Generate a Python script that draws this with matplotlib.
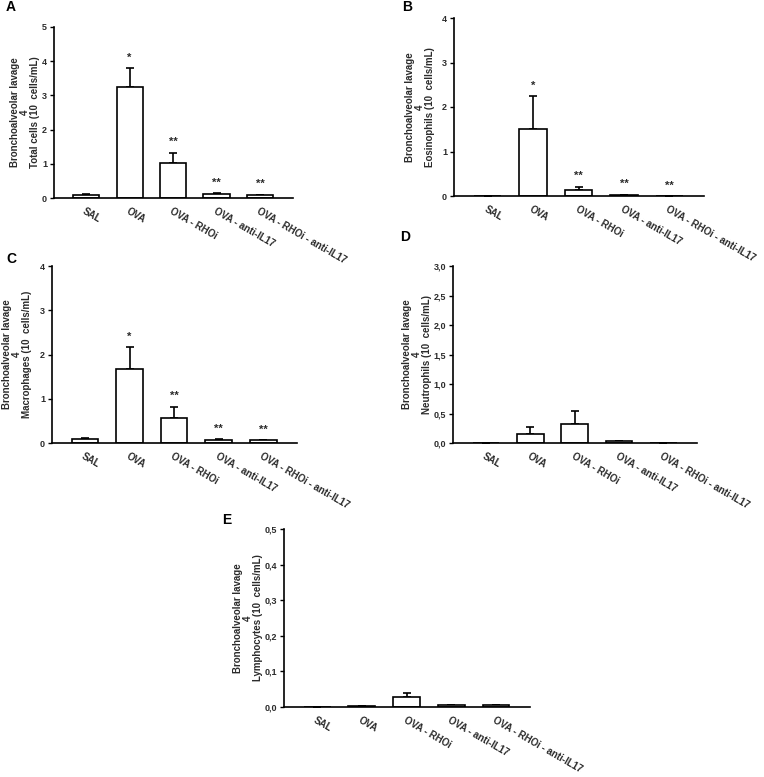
import matplotlib
matplotlib.use("Agg")
import matplotlib.pyplot as plt

plt.rcParams["font.family"] = ["Liberation Sans", "DejaVu Sans"]
plt.rcParams["font.weight"] = "bold"

TEXT_COLOR = "#2b2b2b"

groups = ["SAL", "OVA", "OVA - RHOi", "OVA - anti-IL17", "OVA - RHOi - anti-IL17"]

total_vals = [0.10, 3.25, 1.02, 0.13, 0.08]
total_err = [0.02, 0.54, 0.31, 0.01, 0.02]
total_stars = ["", "*", "**", "**", "**"]

eos_vals = [0.01, 1.51, 0.14, 0.02, 0.0]
eos_err = [0.0, 0.73, 0.07, 0.01, 0.0]
eos_stars = ["", "*", "**", "**", "**"]

macro_vals = [0.09, 1.68, 0.57, 0.07, 0.06]
macro_err = [0.02, 0.49, 0.25, 0.01, 0.01]
macro_stars = ["", "*", "**", "**", "**"]

neut_vals = [0.005, 0.15, 0.33, 0.03, 0.005]
neut_err = [0.0, 0.12, 0.22, 0.01, 0.0]

lymph_vals = [0.001, 0.003, 0.028, 0.005, 0.005]
lymph_err = [0.0, 0.0005, 0.012, 0.001, 0.001]

# panel layout in pixels: left, right, top, bottom
FIG_W, FIG_H = 764, 777


def add_panel(fig, box, letter, letter_xy, values, errors, stars, ymax, yticks,
              ticklabels, ylabel, label_x):
    left, right, top, bottom = box
    ax = fig.add_axes([left / FIG_W, 1 - bottom / FIG_H,
                       (right - left) / FIG_W, (bottom - top) / FIG_H])
    x = list(range(len(values)))
    ax.bar(x, values, width=0.6, color="white", edgecolor="black",
           linewidth=1.2, zorder=2)
    ax.errorbar(x, values, yerr=[[0] * len(values), errors], fmt="none",
                ecolor="black", elinewidth=1.2, capsize=3, capthick=1.2, zorder=1)
    for xi, v, e, s in zip(x, values, errors, stars):
        if s:
            ax.annotate(s, (xi, v + e), xytext=(0, 4), textcoords="offset points",
                        ha="center", va="bottom", fontsize=8,
                        fontweight="bold", color=TEXT_COLOR)
    ax.set_xlim(-0.74, 4.76)
    ax.set_ylim(0, ymax)
    ax.set_yticks(yticks)
    ax.set_yticklabels(ticklabels, fontsize=6.5, fontweight="bold",
                       color=TEXT_COLOR)
    ax.set_xticks(x)
    ax.set_xticklabels(groups, rotation=-30, ha="left", rotation_mode="anchor",
                       fontsize=7, fontweight="bold", color=TEXT_COLOR)
    ax.tick_params(axis="x", length=0, pad=6)
    ax.tick_params(axis="y", length=3, width=1, pad=2)
    for side in ("top", "right"):
        ax.spines[side].set_visible(False)
    for side in ("left", "bottom"):
        ax.spines[side].set_linewidth(1.2)
    ax.set_ylabel(ylabel, fontsize=7, fontweight="bold", color=TEXT_COLOR,
                  linespacing=1.0, multialignment="center")
    ax.yaxis.label.set_va("center")
    ax.yaxis.set_label_coords(label_x, 0.5)
    fig.text(letter_xy[0] / FIG_W, 1 - letter_xy[1] / FIG_H, letter,
             fontsize=10, fontweight="bold", color="black", va="center")
    return ax


fig = plt.figure(figsize=(FIG_W / 100, FIG_H / 100), dpi=100)

add_panel(fig, (54, 293, 27, 198), "A", (6, 7), total_vals, total_err,
          total_stars, 5, [0, 1, 2, 3, 4, 5], ["0", "1", "2", "3", "4", "5"],
          "Bronchoalveolar lavage\n4\nTotal cells (10  cells/mL)", -0.121)

add_panel(fig, (454, 704, 18, 196), "B", (402, 7), eos_vals, eos_err,
          eos_stars, 4, [0, 1, 2, 3, 4], ["0", "1", "2", "3", "4"],
          "Bronchoalveolar lavage\n4\nEosinophils (10  cells/mL)", -0.136)

add_panel(fig, (52, 297, 266, 443), "C", (6, 259), macro_vals, macro_err,
          macro_stars, 4, [0, 1, 2, 3, 4], ["0", "1", "2", "3", "4"],
          "Bronchoalveolar lavage\n4\nMacrophages (10  cells/mL)", -0.143)

add_panel(fig, (453, 697, 266, 443), "D", (400, 237), neut_vals, neut_err,
          [""] * 5, 3.0, [0, 0.5, 1.0, 1.5, 2.0, 2.5, 3.0],
          ["0,0", "0,5", "1,0", "1,5", "2,0", "2,5", "3,0"],
          "Bronchoalveolar lavage\n4\nNeutrophils (10  cells/mL)", -0.148)

add_panel(fig, (284, 530, 529, 707), "E", (222, 520), lymph_vals, lymph_err,
          [""] * 5, 0.5, [0, 0.1, 0.2, 0.3, 0.4, 0.5],
          ["0,0", "0,1", "0,2", "0,3", "0,4", "0,5"],
          "Bronchoalveolar lavage\n4\nLymphocytes (10  cells/mL)", -0.146)

fig.savefig("out.png", dpi=100, facecolor="white")
